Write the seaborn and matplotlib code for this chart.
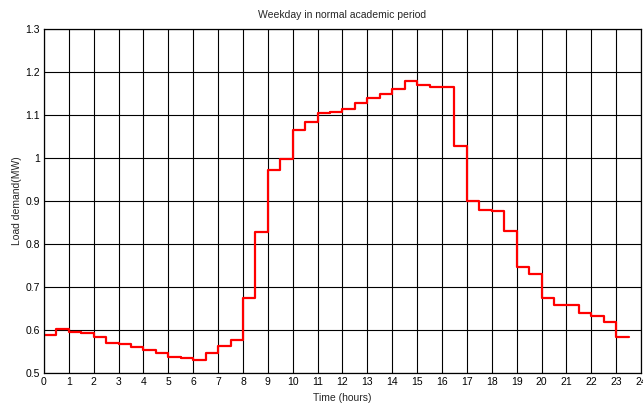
import matplotlib
matplotlib.use("Agg")
import matplotlib.pyplot as plt
import numpy as np
import pandas as pd
import seaborn as sns

# half-hourly load demand (MW), each value holds from its start time for 30 min
start_hours = np.arange(0, 23.5, 0.5)
load_mw = [
    0.588, 0.602, 0.596, 0.592, 0.584, 0.570, 0.567, 0.561,
    0.553, 0.547, 0.538, 0.536, 0.530, 0.547, 0.563, 0.577,
    0.675, 0.829, 0.972, 0.998, 1.065, 1.084, 1.105, 1.107,
    1.114, 1.127, 1.139, 1.148, 1.161, 1.178, 1.170, 1.164,
    1.164, 1.028, 0.900, 0.879, 0.877, 0.831, 0.747, 0.7295,
    0.674, 0.658, 0.658, 0.640, 0.633, 0.619, 0.584,
]
x_ticks = list(range(0, 25))
y_ticks = [0.5, 0.6, 0.7, 0.8, 0.9, 1.0, 1.1, 1.2, 1.3]
y_tick_labels = ["0.5", "0.6", "0.7", "0.8", "0.9", "1", "1.1", "1.2", "1.3"]

# close the last step at the end of its half hour
df = pd.DataFrame({
    "hour": list(start_hours) + [start_hours[-1] + 0.5],
    "load": load_mw + [load_mw[-1]],
})

sns.set_style("white")
plt.rcParams["font.family"] = ["Liberation Sans", "DejaVu Sans"]

fig = plt.figure(figsize=(6.43, 4.04), dpi=100)
ax = fig.add_axes([0.0684, 0.0767, 0.9285, 0.8515])

sns.lineplot(data=df, x="hour", y="load", drawstyle="steps-post",
             color="red", linewidth=1.6, ax=ax)

ax.set_xlim(0, 24)
ax.set_ylim(0.5, 1.3)
ax.set_xticks(x_ticks)
# the last label sits on the figure edge, as in the source
ax.set_xticklabels([str(t) for t in x_ticks])
ax.set_yticks(y_ticks)
ax.set_yticklabels(y_tick_labels)
ax.grid(True, color="black", linewidth=0.8, linestyle="-")
ax.tick_params(direction="in", length=2, width=0.8, labelsize=7.5,
               colors="black", pad=3)
for s in ax.spines.values():
    s.set_color("black")
    s.set_linewidth(0.9)

ax.set_xlabel("Time (hours)", fontsize=7.5, labelpad=4)
ax.set_ylabel("Load demand(MW)", fontsize=7.5, labelpad=2)
ax.set_title("Weekday in normal academic period", fontsize=7.5, pad=8)

fig.savefig("out.png", dpi=100)
plt.close(fig)
